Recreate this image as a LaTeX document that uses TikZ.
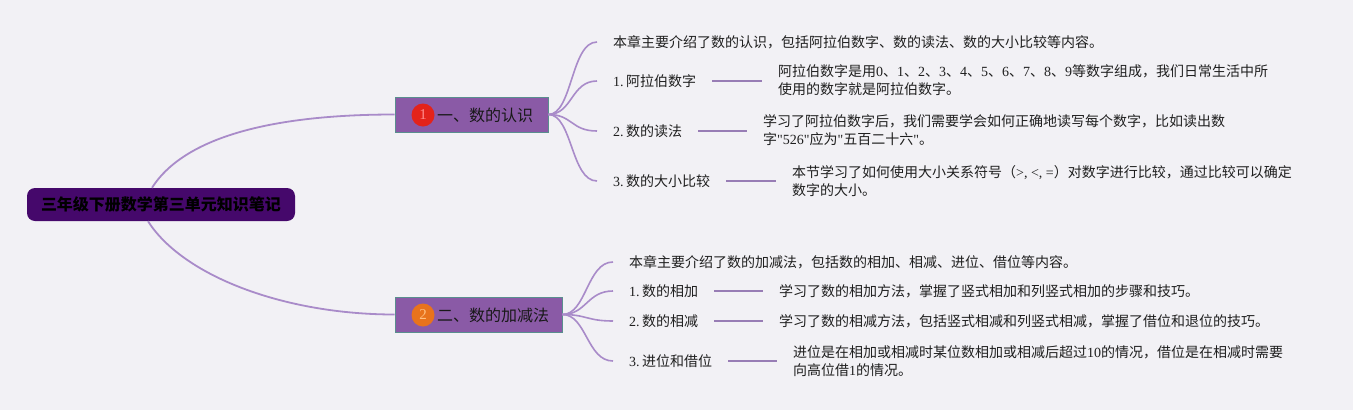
\documentclass[tikz,border=0pt]{standalone}
\usepackage{fontspec}
\setmainfont{Noto Sans CJK SC}
\newfontfamily\lat{Liberation Serif}
\newcommand\ls[1]{{\lat #1}}
\definecolor{bgc}{HTML}{F2F1F5}
\definecolor{linec}{HTML}{A98BC9}
\definecolor{rootc}{HTML}{45086B}
\definecolor{branchc}{HTML}{8A5AA6}
\definecolor{branchb}{HTML}{5A8E8E}
\definecolor{redc}{HTML}{E3231B}
\definecolor{orangec}{HTML}{E8731C}
\begin{document}
\begin{tikzpicture}[x=1pt,y=-1pt,
  mainline/.style={draw=linec, line width=1.8pt},
  subline/.style={draw=linec, line width=1.6pt},
  barline/.style={draw=linec!90!black, line width=2pt},
  root/.style={fill=rootc, rounded corners=8pt, minimum width=268pt, minimum height=33pt, inner sep=0pt,
    font=\fontsize{16}{19}\selectfont\bfseries, text=black},
  branchbox/.style={fill=branchc, draw=branchb, line width=0.8pt, minimum height=35pt, inner sep=0pt},
  btext/.style={anchor=west, inner sep=0pt, font=\fontsize{16}{19}\selectfont, text=black!90},
  numdot/.style={circle, minimum size=23pt, inner sep=0pt, font=\fontsize{15}{18}\selectfont\lat},
  child/.style={anchor=west, inner xsep=16pt, inner ysep=2pt, align=left,
    font=\fontsize{14}{18}\selectfont, text=black!88},
]
\fill[bgc] (0,0) rectangle (1353,410);
\useasboundingbox (0,0) rectangle (1353,410);

% root
\node[root] (root) at (161,204.5) {三年级下册数学第三单元知识笔记};

% branch 1
\node[branchbox, minimum width=153pt] (b1) at (471.5,114.5) {};
\node[numdot, fill=redc, text=red!45!white] (c1) at (423,115) {1};
\node[btext] (b1t) at (437,115) {一、数的认识};

% branch 2
\node[branchbox, minimum width=167pt] (b2) at (478.5,314.5) {};
\node[numdot, fill=orangec, text=orange!50!white] (c2) at (423,315) {2};
\node[btext] (b2t) at (437,315) {二、数的加减法};

\draw[mainline] ([xshift=-9pt]root.north) .. controls +(35,-55) and +(-110,0) .. (b1.west);
\draw[mainline] ([xshift=-13pt]root.south) .. controls +(35,55) and +(-110,0) .. (b2.west);

% branch 1 children
\node[child] (k10) at (597,42) {本章主要介绍了数的认识，包括阿拉伯数字、数的读法、数的大小比较等内容。};
\node[child] (k11) at (597,81) {\ls{1.}\,阿拉伯数字};
\node[child] (k12) at (597,131) {\ls{2.}\,数的读法};
\node[child] (k13) at (597,181) {\ls{3.}\,数的大小比较};

\node[child] (d11) at (762,80) {阿拉伯数字是用\ls{0}、\ls{1}、\ls{2}、\ls{3}、\ls{4}、\ls{5}、\ls{6}、\ls{7}、\ls{8}、\ls{9}等数字组成，我们日常生活中所\\使用的数字就是阿拉伯数字。};
\node[child] (d12) at (747,130) {学习了阿拉伯数字后，我们需要学会如何正确地读写每个数字，比如读出数\\字\ls{"526"}应为\ls{"}五百二十六\ls{"}。};
\node[child] (d13) at (776,181) {本节学习了如何使用大小关系符号（\ls{>, <, =}）对数字进行比较，通过比较可以确定\\数字的大小。};

\foreach \k in {k10,k11,k12,k13}
  \draw[subline] (b1.east) .. controls +(24,0) and +(-26,0) .. (\k.west);
\draw[barline] (k11.east) -- (d11.west |- k11.east);
\draw[barline] (k12.east) -- (d12.west |- k12.east);
\draw[barline] (k13.east) -- (d13.west |- k13.east);

% branch 2 children
\node[child] (k20) at (613,262) {本章主要介绍了数的加减法，包括数的相加、相减、进位、借位等内容。};
\node[child] (k21) at (613,291) {\ls{1.}\,数的相加};
\node[child] (k22) at (613,321) {\ls{2.}\,数的相减};
\node[child] (k23) at (613,361) {\ls{3.}\,进位和借位};

\node[child] (d21) at (763,291) {学习了数的相加方法，掌握了竖式相加和列竖式相加的步骤和技巧。};
\node[child] (d22) at (763,321) {学习了数的相减方法，包括竖式相减和列竖式相减，掌握了借位和退位的技巧。};
\node[child] (d23) at (777,361) {进位是在相加或相减时某位数相加或相减后超过\ls{10}的情况，借位是在相减时需要\\向高位借\ls{1}的情况。};

\foreach \k in {k20,k21,k22,k23}
  \draw[subline] (b2.east) .. controls +(24,0) and +(-26,0) .. (\k.west);
\draw[barline] (k21.east) -- (d21.west |- k21.east);
\draw[barline] (k22.east) -- (d22.west |- k22.east);
\draw[barline] (k23.east) -- (d23.west |- k23.east);
\end{tikzpicture}
\end{document}
